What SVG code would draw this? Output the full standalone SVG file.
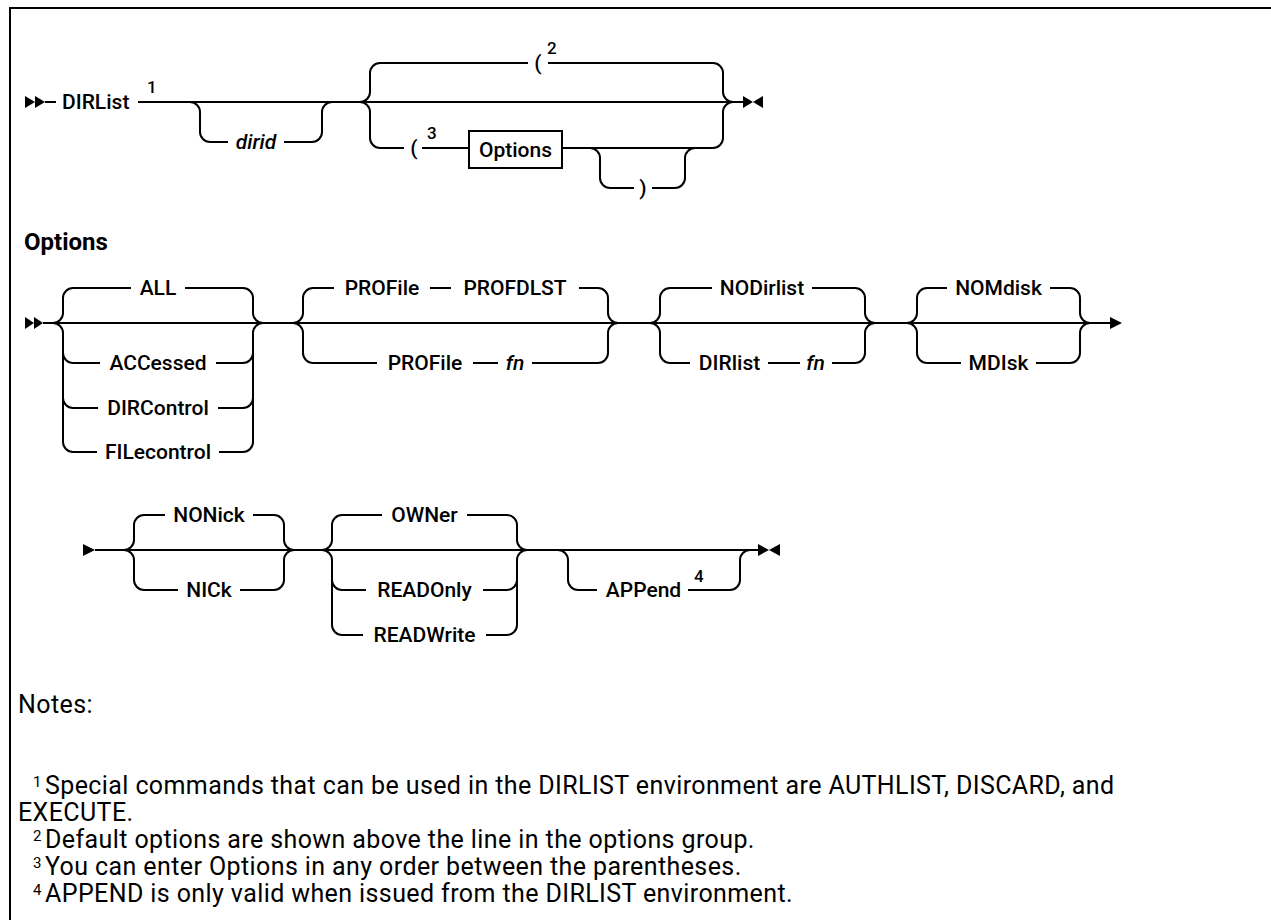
<svg xmlns="http://www.w3.org/2000/svg" width="1271" height="920" viewBox="0 0 1271 920">
<style>
.ln{fill:none;stroke:#000;stroke-width:2}
.ar{fill:#000;stroke:none}
.lb{font-family:Roboto,"Liberation Sans",Arial,sans-serif;font-size:21px;font-weight:500;fill:#000}
.c{text-anchor:middle}
.it{font-style:italic}
.sup{font-family:Roboto,"Liberation Sans",Arial,sans-serif;font-size:17px;font-weight:500;fill:#000}
.hd{font-family:Roboto,"Liberation Sans",Arial,sans-serif;font-size:24px;font-weight:bold;fill:#000}
.nt{font-family:Roboto,"Liberation Sans",Arial,sans-serif;font-size:25px;letter-spacing:0.4px;fill:#000}
.ns{font-family:Roboto,"Liberation Sans",Arial,sans-serif;font-size:15px;fill:#000}
</style>
<path class="ln" d="M10,920 V8 H1271"/>
<g id="connectors">
<path class="ln" d="M45,102 H56 M138,102 H743"/>
<path class="ln" d="M190,102 A10,10 0 0 1 200,112 V132 A10,10 0 0 0 210,142 H228 M284,142 H312 A10,10 0 0 0 322,132 V112 A10,10 0 0 1 332,102"/>
<path class="ln" d="M360,102 A10,10 0 0 0 370,92 V73 A10,10 0 0 1 380,63 H528 M548,63 H713 A10,10 0 0 1 723,73 V92 A10,10 0 0 0 733,102"/>
<path class="ln" d="M360,102 A10,10 0 0 1 370,112 V138 A10,10 0 0 0 380,148 H404 M422,148 H469 M562,148 H713 A10,10 0 0 0 723,138 V112 A10,10 0 0 1 733,102"/>
<path class="ln" d="M590,148 A10,10 0 0 1 600,158 V178 A10,10 0 0 0 610,188 H634 M652,188 H675 A10,10 0 0 0 685,178 V158 A10,10 0 0 1 695,148"/>
<polygon class="ar" points="25,96 35,102 25,108"/>
<polygon class="ar" points="35,96 45,102 35,108"/>
<polygon class="ar" points="743,96 753,102 743,108"/>
<polygon class="ar" points="763,96 753,102 763,108"/>
<path class="ln" d="M43,323 H1110"/>
<polygon class="ar" points="25,317 34,323 25,329"/>
<polygon class="ar" points="34,317 43,323 34,329"/>
<polygon class="ar" points="1110,317 1122,323 1110,329"/>
<path class="ln" d="M53,323 A10,10 0 0 0 63,313 V298 A10,10 0 0 1 73,288 H131 M185,288 H243 A10,10 0 0 1 253,298 V313 A10,10 0 0 0 263,323"/>
<path class="ln" d="M53,323 A10,10 0 0 1 63,333 V442 A10,10 0 0 0 73,452 H97 M219,452 H243 A10,10 0 0 0 253,442 V333 A10,10 0 0 1 263,323"/>
<path class="ln" d="M63,353 A10,10 0 0 0 73,363 H100 M216,363 H243 A10,10 0 0 0 253,353"/>
<path class="ln" d="M63,398 A10,10 0 0 0 73,408 H98 M218,408 H243 A10,10 0 0 0 253,398"/>
<path class="ln" d="M293,323 A10,10 0 0 0 303,313 V298 A10,10 0 0 1 313,288 H334 M430,288 H451 M579,288 H598 A10,10 0 0 1 608,298 V313 A10,10 0 0 0 618,323"/>
<path class="ln" d="M293,323 A10,10 0 0 1 303,333 V353 A10,10 0 0 0 313,363 H377 M473,363 H498 M532,363 H598 A10,10 0 0 0 608,353 V333 A10,10 0 0 1 618,323"/>
<path class="ln" d="M650,323 A10,10 0 0 0 660,313 V298 A10,10 0 0 1 670,288 H712 M812,288 H855 A10,10 0 0 1 865,298 V313 A10,10 0 0 0 875,323"/>
<path class="ln" d="M650,323 A10,10 0 0 1 660,333 V353 A10,10 0 0 0 670,363 H690 M768,363 H800 M832,363 H855 A10,10 0 0 0 865,353 V333 A10,10 0 0 1 875,323"/>
<path class="ln" d="M907,323 A10,10 0 0 0 917,313 V298 A10,10 0 0 1 927,288 H947 M1050,288 H1070 A10,10 0 0 1 1080,298 V313 A10,10 0 0 0 1090,323"/>
<path class="ln" d="M907,323 A10,10 0 0 1 917,333 V353 A10,10 0 0 0 927,363 H961 M1036,363 H1070 A10,10 0 0 0 1080,353 V333 A10,10 0 0 1 1090,323"/>
<path class="ln" d="M95,550 H758"/>
<polygon class="ar" points="83,544 95,550 83,556"/>
<polygon class="ar" points="758,544 769,550 758,556"/>
<polygon class="ar" points="780,544 769,550 780,556"/>
<path class="ln" d="M124,550 A10,10 0 0 0 134,540 V525 A10,10 0 0 1 144,515 H165 M253,515 H274 A10,10 0 0 1 284,525 V540 A10,10 0 0 0 294,550"/>
<path class="ln" d="M124,550 A10,10 0 0 1 134,560 V580 A10,10 0 0 0 144,590 H178 M240,590 H274 A10,10 0 0 0 284,580 V560 A10,10 0 0 1 294,550"/>
<path class="ln" d="M322,550 A10,10 0 0 0 332,540 V525 A10,10 0 0 1 342,515 H382 M467,515 H507 A10,10 0 0 1 517,525 V540 A10,10 0 0 0 527,550"/>
<path class="ln" d="M322,550 A10,10 0 0 1 332,560 V625 A10,10 0 0 0 342,635 H363 M486,635 H507 A10,10 0 0 0 517,625 V560 A10,10 0 0 1 527,550"/>
<path class="ln" d="M332,580 A10,10 0 0 0 342,590 H366 M483,590 H507 A10,10 0 0 0 517,580"/>
<path class="ln" d="M558,550 A10,10 0 0 1 568,560 V580 A10,10 0 0 0 578,590 H597 M688,590 H730 A10,10 0 0 0 740,580 V560 A10,10 0 0 1 750,550"/>
</g>
<g id="n_dirlist"><text class="lb" x="62" y="109">DIRList</text><text class="sup" x="147" y="93">1</text></g>
<g id="n_dirid"><text class="lb it c" x="256" y="149">dirid</text></g>
<g id="n_paren2"><text class="lb c" x="538" y="70">(</text><text class="sup" x="547" y="54">2</text></g>
<g id="n_paren3"><text class="lb c" x="414" y="155">(</text><text class="sup" x="427" y="139">3</text></g>
<g id="n_options_ref"><rect class="ln" x="469" y="131" width="93" height="37"/><text class="lb c" x="515.5" y="157">Options</text></g>
<g id="n_close"><text class="lb c" x="643" y="195">)</text></g>
<g id="n_heading"><text class="hd" x="24" y="250">Options</text></g>
<g id="n_all"><text class="lb c" x="158" y="295">ALL</text></g>
<g id="n_accessed"><text class="lb c" x="158" y="370">ACCessed</text></g>
<g id="n_dircontrol"><text class="lb c" x="158" y="415">DIRControl</text></g>
<g id="n_filecontrol"><text class="lb c" x="158" y="459">FILecontrol</text></g>
<g id="n_profile1"><text class="lb c" x="382" y="295">PROFile</text><text class="lb c" x="515" y="295">PROFDLST</text></g>
<g id="n_profile2"><text class="lb c" x="425" y="370">PROFile</text><text class="lb it c" x="515" y="370">fn</text></g>
<g id="n_nodirlist"><text class="lb c" x="762" y="295">NODirlist</text></g>
<g id="n_dirlistfn"><text class="lb c" x="729.5" y="370">DIRlist</text><text class="lb it c" x="815.5" y="370">fn</text></g>
<g id="n_nomdisk"><text class="lb c" x="998.5" y="295">NOMdisk</text></g>
<g id="n_mdisk"><text class="lb c" x="998.5" y="370">MDIsk</text></g>
<g id="n_nonick"><text class="lb c" x="209" y="522">NONick</text></g>
<g id="n_nick"><text class="lb c" x="209" y="597">NICk</text></g>
<g id="n_owner"><text class="lb c" x="424.5" y="522">OWNer</text></g>
<g id="n_readonly"><text class="lb c" x="424.5" y="597">READOnly</text></g>
<g id="n_readwrite"><text class="lb c" x="424.5" y="642">READWrite</text></g>
<g id="n_append"><text class="lb c" x="643.5" y="597">APPend</text><text class="sup" x="694" y="582">4</text></g>
<g id="notes">
<text class="nt" x="18" y="713">Notes:</text>
<text class="ns" x="33" y="787">1</text><text class="nt" x="45" y="794">Special commands that can be used in the DIRLIST environment are AUTHLIST, DISCARD, and</text>
<text class="nt" x="18" y="821">EXECUTE.</text>
<text class="ns" x="33" y="841">2</text><text class="nt" x="45" y="848">Default options are shown above the line in the options group.</text>
<text class="ns" x="33" y="868">3</text><text class="nt" x="45" y="875">You can enter Options in any order between the parentheses.</text>
<text class="ns" x="33" y="895">4</text><text class="nt" x="45" y="902">APPEND is only valid when issued from the DIRLIST environment.</text>
</g>
</svg>
